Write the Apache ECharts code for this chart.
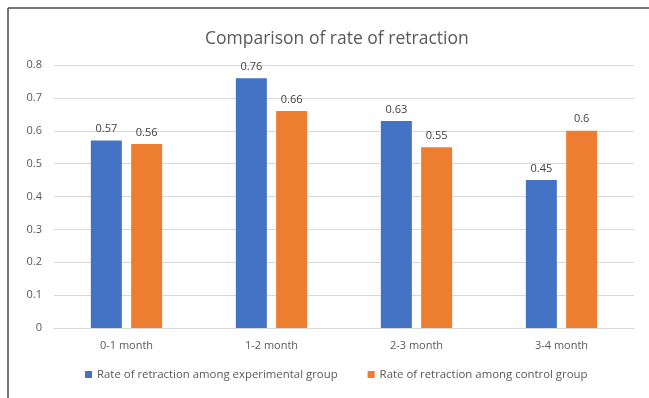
<!DOCTYPE html>
<html>
<head>
<meta charset="utf-8">
<script src="https://cdn.jsdelivr.net/npm/echarts@6/dist/echarts.min.js"></script>
<style>
  html, body { margin: 0; padding: 0; background: #fff; }
  #chart { width: 649px; height: 398px; }
</style>
</head>
<body>
<div id="chart"></div>
<script>
// Retraction rates per follow-up period
const categories = ['0-1 month', '1-2 month', '2-3 month', '3-4 month'];
const experimentalRates = [0.57, 0.76, 0.63, 0.45];
const controlRates = [0.56, 0.66, 0.55, 0.6];
const seriesNames = [
  'Rate of retraction among experimental group',
  'Rate of retraction among control group'
];

const FONT = '"Open Sans", "Noto Sans", sans-serif';
const chart = echarts.init(document.getElementById('chart'), null, { renderer: 'canvas' });

const labelStyle = {
  show: true,
  position: 'top',
  distance: 6,
  color: '#404040',
  fontSize: 11,
  fontFamily: FONT
};

chart.setOption({
  backgroundColor: '#ffffff',
  animation: false,
  title: {
    text: 'Comparison of rate of retraction',
    left: 200,
    top: 25,
    textStyle: { color: '#595959', fontSize: 17.5, fontWeight: 'normal', fontFamily: FONT }
  },
  graphic: [
    { type: 'line', shape: { x1: 8, y1: 8, x2: 649, y2: 8 }, style: { stroke: '#4a4a4a', lineWidth: 1.5 } },
    { type: 'line', shape: { x1: 8, y1: 8, x2: 8, y2: 398 }, style: { stroke: '#4a4a4a', lineWidth: 1.5 } }
  ],
  legend: {
    bottom: 13,
    left: 80,
    itemWidth: 7,
    itemHeight: 7,
    itemGap: 30,
    icon: 'rect',
    textStyle: { color: '#595959', fontSize: 11.4, fontFamily: FONT },
    data: seriesNames
  },
  grid: { left: 54, right: 15, top: 65, bottom: 70 },
  xAxis: {
    type: 'category',
    data: categories,
    axisLine: { lineStyle: { color: '#d9d9d9' } },
    axisTick: { show: false },
    axisLabel: { color: '#595959', fontSize: 11, fontFamily: FONT, margin: 12 }
  },
  yAxis: {
    type: 'value',
    min: 0,
    max: 0.8,
    interval: 0.1,
    axisLine: { show: false },
    axisTick: { show: false },
    splitLine: { lineStyle: { color: '#d9d9d9' } },
    axisLabel: {
      color: '#595959', fontSize: 11, fontFamily: FONT, margin: 12,
      formatter: v => String(Math.round(v * 10) / 10)
    }
  },
  series: [
    {
      name: seriesNames[0],
      type: 'bar',
      data: experimentalRates,
      barWidth: 31,
      barGap: '30%',
      itemStyle: { color: '#4472C4' },
      label: labelStyle
    },
    {
      name: seriesNames[1],
      type: 'bar',
      data: controlRates,
      barWidth: 31,
      barGap: '30%',
      itemStyle: { color: '#ED7D31' },
      label: labelStyle
    }
  ]
});
</script>
</body>
</html>
